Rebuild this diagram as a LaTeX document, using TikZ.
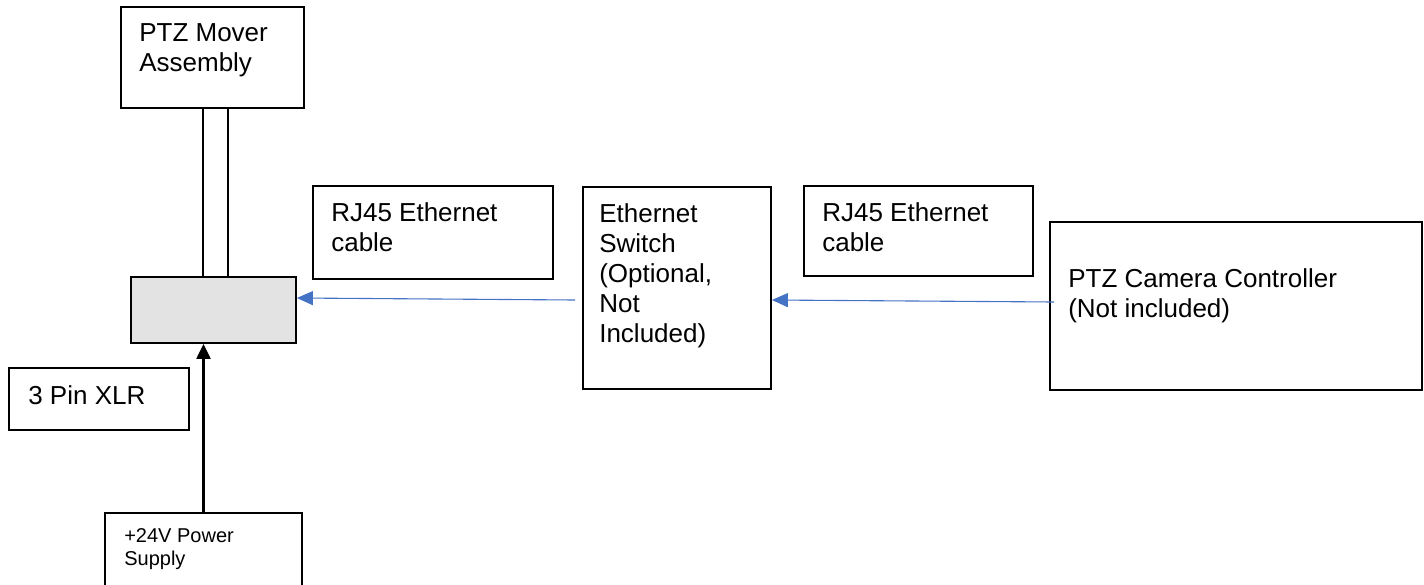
\documentclass[tikz,border=0pt]{standalone}
\usepackage{fontspec}
\setmainfont{Liberation Sans}
\usetikzlibrary{arrows.meta,positioning}
\definecolor{linkblue}{HTML}{4472C4}
\definecolor{hubgray}{HTML}{E3E3E3}

\begin{document}
\begin{tikzpicture}[x=1pt,y=-1pt,
    box/.style={draw,line width=1.8pt,rectangle,inner sep=0pt},
    txt/.style={inner sep=0pt,align=left,font=\fontsize{26}{30}\selectfont},
    small/.style={inner sep=0pt,align=left,font=\fontsize{20}{23}\selectfont},
    link/.style={linkblue,line width=1.1pt,-{Triangle[length=16pt,width=14pt]}},
    feed/.style={line width=2.2pt,-{Triangle[length=15pt,width=14pt]}}]
  \useasboundingbox (0,0) rectangle (1424,584);

  % mover with its cable stub and the connector box
  \node[box,minimum width=183pt,minimum height=101pt] (mover) at (212.5,57.5) {};
  \node[txt,below right=17pt and 19pt of mover.north west] (movertxt) {PTZ Mover\\Assembly};
  \node[box,minimum width=25pt,minimum height=169pt] (stub) at (215.5,192.5) {};
  \node[box,fill=hubgray,minimum width=165pt,minimum height=66pt] (hub) at (213.5,310) {};

  % power side
  \node[box,minimum width=180pt,minimum height=62pt] (xlr) at (99,399) {};
  \node[txt,below right=18pt and 20pt of xlr.north west] (xlrtxt) {3 Pin XLR};
  \node[box,minimum width=197pt,minimum height=107pt] (psu) at (203.5,566.5) {};
  \node[small,below right=16pt and 20pt of psu.north west] (psutxt) {+24V Power\\Supply};

  % network side
  \node[box,minimum width=240pt,minimum height=93pt] (rjleft) at (433,232.5) {};
  \node[txt,below right=17pt and 19pt of rjleft.north west] (rjlefttxt) {RJ45 Ethernet\\cable};
  \node[box,minimum width=188pt,minimum height=202pt] (switch) at (677,288) {};
  \node[txt,below right=17pt and 17pt of switch.north west] (switchtxt) {Ethernet\\Switch\\(Optional,\\Not\\Included)};
  \node[box,minimum width=229pt,minimum height=90pt] (rjright) at (918.5,231) {};
  \node[txt,below right=17pt and 19pt of rjright.north west] (rjrighttxt) {RJ45 Ethernet\\cable};
  \node[box,minimum width=372pt,minimum height=168pt] (ctrl) at (1236,306) {};
  \node[txt,below right=47pt and 19pt of ctrl.north west] (ctrltxt) {PTZ Camera Controller\\(Not included)};

  % connectors
  \draw[feed] (psu.north) -- (psu.north |- hub.south);
  \draw[link] ([shift={(-7pt,-12pt)}]switch.west) -- ([yshift=12pt]hub.east);
  \draw[link] ([shift={(5pt,4pt)}]ctrl.west) -- ([yshift=-12pt]switch.east);
\end{tikzpicture}
\end{document}
